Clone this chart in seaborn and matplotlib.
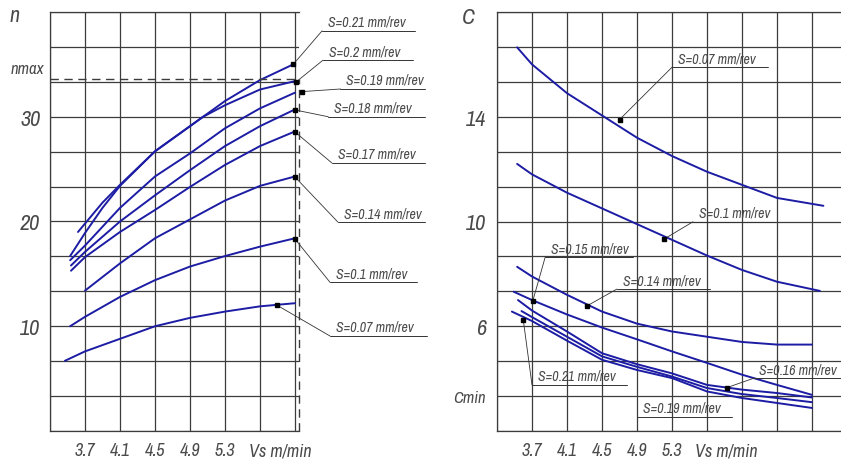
import matplotlib
matplotlib.use("Agg")
import numpy as np
import pandas as pd
import matplotlib.pyplot as plt
import matplotlib.transforms as mtransforms
from matplotlib import font_manager
import seaborn as sns

# ---- left chart: spindle speed n against cutting speed Vs ----
n_vs_021 = [3.53, 3.7, 3.9, 4.1, 4.5, 4.9, 5.05, 5.3, 5.7, 6.08]
n_val_021 = [16.7, 18.9, 21.3, 23.4, 26.7, 29.1, 30.0, 31.5, 33.5, 35.0]
n_vs_020 = [3.62, 3.7, 3.9, 4.1, 4.5, 4.9, 5.05, 5.3, 5.7, 6.1]
n_val_020 = [19.0, 19.8, 21.8, 23.5, 26.7, 29.1, 30.0, 31.1, 32.6, 33.4]
n_vs_019 = [3.53, 3.7, 4.1, 4.5, 4.9, 5.3, 5.7, 6.1]
n_val_019 = [16.3, 17.7, 21.3, 24.3, 26.5, 28.9, 30.8, 32.3]
n_vs_018 = [3.54, 3.7, 4.1, 4.5, 4.9, 5.3, 5.7, 6.1]
n_val_018 = [15.8, 17.1, 20.0, 22.5, 24.9, 27.2, 29.1, 30.7]
n_vs_017 = [3.54, 3.7, 4.1, 4.5, 4.9, 5.3, 5.7, 6.1]
n_val_017 = [15.3, 16.6, 19.0, 21.1, 23.3, 25.4, 27.2, 28.6]
n_vs_014 = [3.7, 4.1, 4.5, 4.9, 5.3, 5.7, 6.1]
n_val_014 = [13.4, 16.0, 18.4, 20.2, 22.0, 23.4, 24.3]
n_vs_010 = [3.53, 3.7, 4.1, 4.5, 4.9, 5.3, 5.7, 6.1]
n_val_010 = [10.0, 10.9, 12.8, 14.4, 15.7, 16.7, 17.6, 18.4]
n_vs_007 = [3.47, 3.7, 4.1, 4.5, 4.9, 5.3, 5.7, 6.1]
n_val_007 = [6.7, 7.6, 8.8, 10.0, 10.8, 11.4, 11.9, 12.2]
n_max = 33.6

# ---- right chart: C against cutting speed Vs ----
c_vs_007 = [3.53, 3.7, 4.1, 4.5, 4.9, 5.3, 5.7, 6.1, 6.5, 7.03]
c_val_007 = [16.65, 16.0, 14.9, 14.05, 13.2, 12.5, 11.9, 11.4, 10.9, 10.6]
c_vs_010 = [3.53, 3.7, 4.1, 4.5, 4.9, 5.3, 5.7, 6.1, 6.5, 6.99]
c_val_010 = [12.2, 11.8, 11.1, 10.5, 9.9, 9.3, 8.7, 8.15, 7.7, 7.35]
c_vs_014 = [3.53, 3.7, 4.1, 4.5, 4.9, 5.3, 5.7, 6.1, 6.5, 6.9]
c_val_014 = [8.27, 7.9, 7.2, 6.56, 6.1, 5.8, 5.6, 5.4, 5.3, 5.3]
c_vs_015 = [3.49, 3.7, 4.1, 4.5, 4.9, 5.3, 5.7, 6.1, 6.5, 6.9]
c_val_015 = [7.32, 7.0, 6.45, 5.95, 5.5, 5.04, 4.6, 4.15, 3.76, 3.38]
c_vs_016 = [3.54, 3.7, 4.1, 4.5, 4.9, 5.3, 5.7, 6.1, 6.5, 6.9]
c_val_016 = [7.0, 6.6, 5.8, 4.97, 4.55, 4.2, 3.76, 3.58, 3.45, 3.28]
c_vs_019 = [3.58, 3.7, 4.1, 4.5, 4.9, 5.3, 5.7, 6.1, 6.5, 6.9]
c_val_019 = [6.58, 6.35, 5.6, 4.85, 4.45, 4.08, 3.64, 3.41, 3.26, 3.1]
c_vs_021 = [3.47, 3.7, 4.1, 4.5, 4.9, 5.3, 5.7, 6.1, 6.5, 6.9]
c_val_021 = [6.56, 6.2, 5.45, 4.72, 4.33, 4.02, 3.51, 3.26, 3.07, 2.88]
c_min = 10 / 3

vs_tick_labels = ["3.7", "4.1", "4.5", "4.9", "5.3"]
n_tick_labels = ["10", "20", "30"]
c_tick_labels = ["6", "10", "14"]

LINE_BLUE = "#1c1ca4"
GRID = "#3c3c3c"
TEXT = "#4a4a4a"


def is_regular(w):
    return str(w).lower() in ("400", "normal", "regular", "book", "300", "light")


def pick_font():
    # a narrow face is closest to the drafting font of the original
    narrow = []
    for f in font_manager.fontManager.ttflist:
        st = str(f.stretch)
        if "Narrow" in f.name or "Condensed" in f.name or st in ("condensed", "semi-condensed", "extra-condensed") \
                or (st.isdigit() and int(st) < 500):
            narrow.append(f)
    narrow.sort(key=lambda f: (not is_regular(f.weight), f.style == "normal", f.name))
    if narrow:
        return narrow[0].name, narrow[0].stretch, narrow[0].weight, True
    return "DejaVu Sans", "normal", "normal", False


def long_frame(pairs):
    parts = []
    for name, xs, ys in pairs:
        parts.append(pd.DataFrame({"Vs": xs, "val": ys, "S": name}))
    return pd.concat(parts, ignore_index=True)


def style_grid(ax, xgrid, ygrid):
    ax.set_xticks(xgrid)
    ax.set_yticks(ygrid)
    ax.grid(True, color=GRID, linewidth=0.9)
    ax.tick_params(length=0)
    for side in ["left", "bottom", "top"]:
        ax.spines[side].set_color(GRID)
        ax.spines[side].set_linewidth(0.9)
    ax.spines["right"].set_visible(False)
    ax.set_xlabel("")
    ax.set_ylabel("")


def label_ticks(ticks, wanted):
    out = []
    for t in ticks:
        lbl = ""
        for w in wanted:
            if np.isclose(t, float(w)):
                lbl = w
        out.append(lbl)
    return out


def callout(ax, text, under_y, x0, x1, size, marker=None):
    if marker is not None:
        ax.plot([marker[0], x0], [marker[1], under_y], color="#333333", lw=0.6, clip_on=False)
        ax.plot([marker[0]], [marker[1]], "s", color="black", ms=3, clip_on=False)
    ax.plot([x0, x1], [under_y, under_y], color="#333333", lw=0.7, clip_on=False)
    tr = mtransforms.offset_copy(ax.transData, fig=ax.figure, x=6, y=2, units="dots")
    ax.text(x0, under_y, text, transform=tr, ha="left", va="bottom",
            fontsize=size, color=TEXT, clip_on=False)


def main():
    sns.set_theme(style="white")
    font, stretch, weight, is_narrow = pick_font()
    plt.rcParams["font.family"] = [font, "DejaVu Sans"]
    plt.rcParams["font.stretch"] = stretch
    plt.rcParams["font.weight"] = weight
    plt.rcParams["font.style"] = "italic"
    k = 1.0 if is_narrow else 0.8
    fs_call, fs_x, fs_y = 10 * k, 13 * k, 16 * k

    fig = plt.figure(figsize=(8.41, 4.64), dpi=100)
    W, H = 841.0, 464.0
    ax1 = fig.add_axes([50 / W, 32 / H, 249 / W, 419 / H])
    ax2 = fig.add_axes([497 / W, 32 / H, 350 / W, 419 / H])

    n_df = long_frame([
        ("0.21", n_vs_021, n_val_021), ("0.2", n_vs_020, n_val_020),
        ("0.19", n_vs_019, n_val_019), ("0.18", n_vs_018, n_val_018),
        ("0.17", n_vs_017, n_val_017), ("0.14", n_vs_014, n_val_014),
        ("0.1", n_vs_010, n_val_010), ("0.07", n_vs_007, n_val_007),
    ])
    c_df = long_frame([
        ("0.07", c_vs_007, c_val_007), ("0.1", c_vs_010, c_val_010),
        ("0.14", c_vs_014, c_val_014), ("0.15", c_vs_015, c_val_015),
        ("0.16", c_vs_016, c_val_016), ("0.19", c_vs_019, c_val_019),
        ("0.21", c_vs_021, c_val_021),
    ])

    blue8 = [LINE_BLUE] * n_df["S"].nunique()
    blue7 = [LINE_BLUE] * c_df["S"].nunique()
    sns.lineplot(data=n_df, x="Vs", y="val", hue="S", palette=blue8, sort=False,
                 estimator=None, legend=False, lw=1.4, ax=ax1)
    sns.lineplot(data=c_df, x="Vs", y="val", hue="S", palette=blue7, sort=False,
                 estimator=None, legend=False, lw=1.4, ax=ax2)

    # left panel frame
    xg1 = np.arange(3.3, 6.11, 0.4)
    yg1 = np.arange(0, 40.01, 10 / 3)
    style_grid(ax1, xg1, yg1)
    ax1.set_xlim(3.3, 6.146)
    ax1.set_ylim(0, 40)
    ax1.set_xticklabels(label_ticks(xg1, vs_tick_labels), fontsize=fs_x, color=TEXT)
    ax1.set_yticklabels(label_ticks(yg1, n_tick_labels), fontsize=fs_y, color=TEXT)
    ax1.tick_params(axis="x", pad=8)
    ax1.tick_params(axis="y", pad=7)
    ax1.plot([3.3, 6.146], [n_max, n_max], color=GRID, lw=1.0, ls=(0, (6, 4)), clip_on=False)
    ax1.plot([6.146, 6.146], [0, n_max], color=GRID, lw=1.0, ls=(0, (6, 4)), clip_on=False)
    ax1.text(5.93, -0.028, "Vs m/min", transform=ax1.get_xaxis_transform(),
             ha="center", va="top", fontsize=fs_x, color=TEXT)

    # right panel frame
    xg2 = np.arange(3.3, 7.31, 0.4)
    yg2 = np.arange(2, 18.01, 4 / 3)
    style_grid(ax2, xg2, yg2)
    ax2.set_xlim(3.3, 7.3)
    ax2.set_ylim(2, 18)
    ax2.set_xticklabels(label_ticks(xg2, vs_tick_labels), fontsize=fs_x, color=TEXT)
    ylab2 = label_ticks(yg2, c_tick_labels)
    ylab2 = ["Cmin" if np.isclose(t, c_min) else l for t, l in zip(yg2, ylab2)]
    ax2.set_yticklabels(ylab2, fontsize=fs_y, color=TEXT)
    for t in ax2.get_yticklabels():
        if t.get_text() == "Cmin":
            t.set_fontsize(12 * k)
    ax2.tick_params(axis="x", pad=8)
    ax2.tick_params(axis="y", pad=8)
    ax2.text(5.92, -0.028, "Vs m/min", transform=ax2.get_xaxis_transform(),
             ha="center", va="top", fontsize=fs_x, color=TEXT)

    fig.text(15 / W, 1 - 16 / H, "n", fontsize=16 * k, color=TEXT, ha="center", va="center")
    fig.text(27 / W, 1 - 70 / H, "nmax", fontsize=12 * k, color=TEXT, ha="center", va="center")
    fig.text(468 / W, 1 - 18 / H, "C", fontsize=16 * k, color=TEXT, ha="center", va="center")

    # callouts, left panel
    callout(ax1, "S=0.21 mm/rev", 38.2, 6.41, 7.47, fs_call, marker=(6.08, 35.0))
    callout(ax1, "S=0.2 mm/rev", 35.4, 6.42, 7.45, fs_call, marker=(6.11, 33.3))
    callout(ax1, "S=0.19 mm/rev", 32.65, 6.62, 7.59, fs_call, marker=(6.18, 32.4))
    callout(ax1, "S=0.18 mm/rev", 30.0, 6.48, 7.59, fs_call, marker=(6.1, 30.65))
    callout(ax1, "S=0.17 mm/rev", 25.6, 6.52, 7.59, fs_call, marker=(6.1, 28.55))
    callout(ax1, "S=0.14 mm/rev", 19.95, 6.59, 7.59, fs_call, marker=(6.1, 24.25))
    callout(ax1, "S=0.1 mm/rev", 14.2, 6.5, 7.49, fs_call, marker=(6.1, 18.33))
    callout(ax1, "S=0.07 mm/rev", 9.07, 6.5, 7.61, fs_call, marker=(5.89, 12.03))

    # callouts, right panel
    callout(ax2, "S=0.07 mm/rev", 15.89, 5.3, 6.4, fs_call, marker=(4.7, 13.89))
    callout(ax2, "S=0.1 mm/rev", 9.99, 5.54, 6.48, fs_call, marker=(5.21, 9.33))
    callout(ax2, "S=0.15 mm/rev", 8.63, 3.85, 4.85, fs_call, marker=(3.71, 6.98))
    callout(ax2, "S=0.14 mm/rev", 7.42, 4.67, 5.73, fs_call, marker=(4.33, 6.78))
    callout(ax2, "S=0.21 mm/rev", 3.76, 3.7, 4.78, fs_call, marker=(3.6, 6.25))
    callout(ax2, "S=0.19 mm/rev", 2.55, 4.9, 5.98, fs_call)
    callout(ax2, "S=0.16 mm/rev", 4.01, 6.23, 7.45, fs_call, marker=(5.93, 3.66))

    fig.savefig("out.png", dpi=100)
    plt.close(fig)


if __name__ == "__main__":
    main()
